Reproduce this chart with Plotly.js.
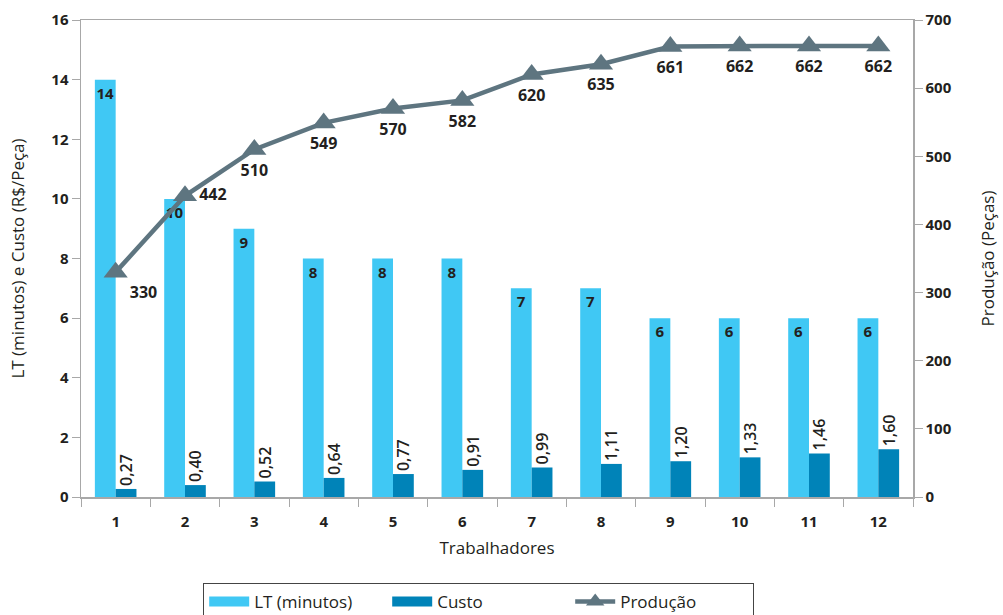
<!DOCTYPE html>
<html><head><meta charset="utf-8">
<script src="https://cdn.plot.ly/plotly-3.0.1.min.js"></script>
<style>body{margin:0;background:#fff}#chart{width:1003px;height:615px}</style>
</head><body><div id="chart"></div>
<script>
const categories = ['1','2','3','4','5','6','7','8','9','10','11','12'];
const ltMinutos = [14,10,9,8,8,8,7,7,6,6,6,6];
const custo = [0.27,0.40,0.52,0.64,0.77,0.91,0.99,1.11,1.20,1.33,1.46,1.60];
const producao = [330,442,510,549,570,582,620,635,661,662,662,662];
const prodLabelPos = ['bottom right','middle right','bottom center','bottom center','bottom center','bottom center','bottom center','bottom center','bottom center','bottom center','bottom center','bottom center'];

const fontFam = 'Open Sans, Noto Sans, sans-serif';
const dark = '#231f20';
const axisCol = '#a8a8a8';
const ltColor = '#40c8f4';
const custoColor = '#0083b8';
const prodColor = '#5e7580';

// the label of bar 2 sits one line lower in the reference, clear of the line marker
const ltText = ltMinutos.map((v, i) => (i === 1 ? '<br>' : '') + String(v));

const traces = [
  {type:'bar', name:'LT (minutos)', x:categories, y:ltMinutos, showlegend:false,
   marker:{color:ltColor}, text:ltText, textposition:'inside',
   insidetextanchor:'end', textangle:0, constraintext:'none',
   textfont:{family:fontFam, size:15, color:dark, weight:'bold'}, cliponaxis:false},
  {type:'bar', name:'Custo', x:categories, y:custo, showlegend:false,
   marker:{color:custoColor}, text:custo.map(v=>v.toFixed(2).replace('.',',')), textposition:'outside',
   textangle:-90, constraintext:'none',
   textfont:{family:fontFam, size:16, color:dark, weight:600}, cliponaxis:false},
  {type:'scatter', mode:'lines', name:'LT (minutos)', x:[null], y:[null], line:{color:ltColor, width:10}},
  {type:'scatter', mode:'lines', name:'Custo', x:[null], y:[null], line:{color:custoColor, width:10}},
  {type:'scatter', mode:'lines+markers+text', name:'Produção', x:categories, y:producao, yaxis:'y2',
   line:{color:prodColor, width:4.5}, marker:{symbol:'triangle-up', size:21, color:prodColor},
   text:producao.map(String), textposition:prodLabelPos,
   textfont:{family:fontFam, size:16, color:dark, weight:'bold'}, cliponaxis:false}
];

const layout = {
  width:1003, height:615,
  margin:{l:81, r:90, t:20, b:118, autoexpand:false},
  paper_bgcolor:'#fff', plot_bgcolor:'#fff',
  font:{family:fontFam, color:dark},
  barmode:'group', bargap:0.4, bargroupgap:0,
  showlegend:true,
  legend:{orientation:'h', x:0.478, xanchor:'center', y:-0.18, yanchor:'top',
          bordercolor:'#444', borderwidth:1, font:{family:fontFam, size:17, color:dark},
          itemwidth:40, entrywidth:128, entrywidthmode:'pixels', traceorder:'normal'},
  xaxis:{type:'category', range:[-0.5,11.5], automargin:false, showline:true, linecolor:axisCol, linewidth:1.5, mirror:true,
         ticks:'outside', tickson:'boundaries', ticklen:8, tickcolor:axisCol, ticklabelstandoff:10,
         tickfont:{family:fontFam, size:15, color:dark, weight:'bold'},
         title:{text:'Trabalhadores', font:{family:fontFam, size:17, color:dark}, standoff:12},
         showgrid:false, zeroline:false},
  yaxis:{range:[0,16], dtick:2, automargin:false, showline:true, linecolor:axisCol, linewidth:1.5,
         ticks:'outside', ticklen:8, tickcolor:axisCol, showgrid:false, zeroline:false,
         tickfont:{family:fontFam, size:15, color:dark, weight:'bold'},
         title:{text:'LT (minutos) e Custo (R$/Peça)', font:{family:fontFam, size:17, color:dark}, standoff:22}},
  yaxis2:{range:[0,700], dtick:100, overlaying:'y', side:'right', automargin:false, showline:true, linecolor:axisCol, linewidth:1.5,
         ticks:'outside', ticklen:8, tickcolor:axisCol, showgrid:false, zeroline:false,
         tickfont:{family:fontFam, size:15, color:dark, weight:'bold'},
         title:{text:'Produção (Peças)', font:{family:fontFam, size:17, color:dark}, standoff:31}}
};

Plotly.newPlot('chart', traces, layout, {displayModeBar:false, staticPlot:true});
</script></body></html>
